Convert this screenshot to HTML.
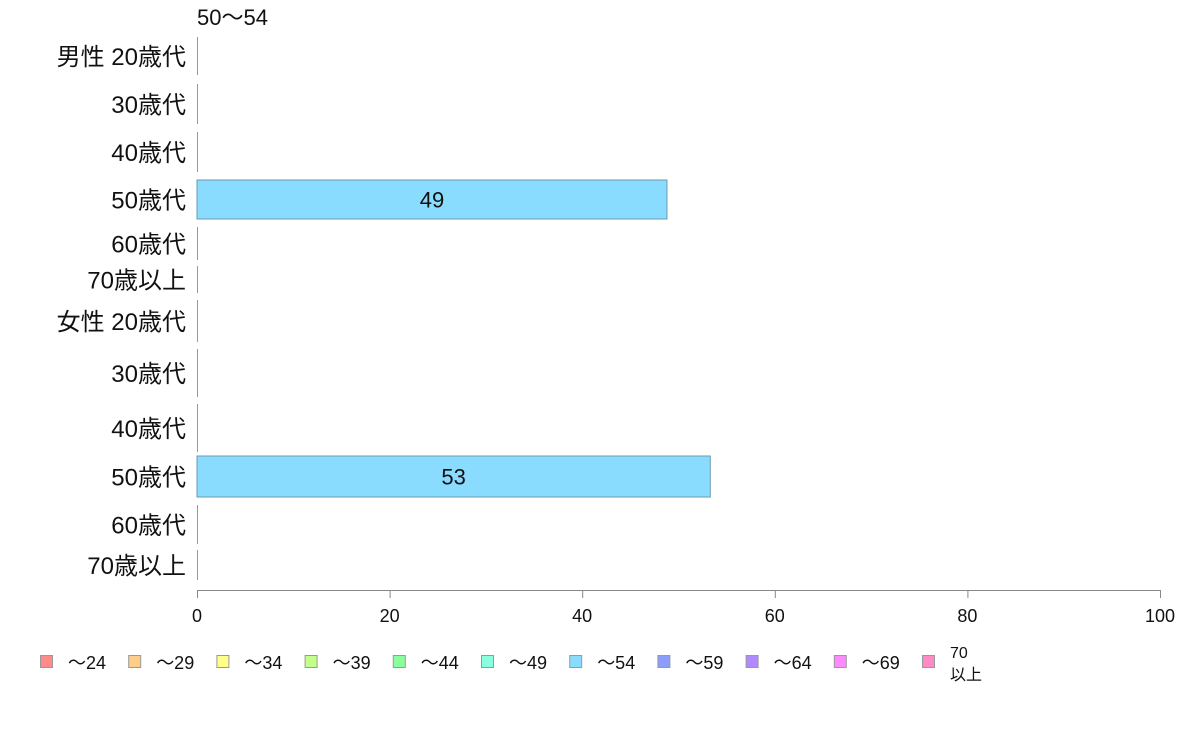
<!DOCTYPE html>
<html><head><meta charset="utf-8"><style>
body{margin:0;background:#fff;}
svg{display:block;font-family:"Liberation Sans","Noto Sans CJK JP",sans-serif;}
</style></head><body>
<svg id="chart" width="1188" height="736" xmlns="http://www.w3.org/2000/svg">
<text x="197" y="25" font-size="22" fill="#111">50〜54</text>
<g id="rows"></g>
<g id="axis"></g>
<g id="legend"></g>
</svg>
<script>
const categories=["男性 20歳代","30歳代","40歳代","50歳代","60歳代","70歳以上","女性 20歳代","30歳代","40歳代","50歳代","60歳代","70歳以上"];
const values=[0,0,0,48.8,0,0,0,0,0,53.3,0,0];
const ticks=[0,20,40,60,80,100];
const legendLabels=["〜24","〜29","〜34","〜39","〜44","〜49","〜54","〜59","〜64","〜69","70"];
const legendColors=["#ff8a8a","#ffcc8a","#ffff8a","#c4ff8a","#8aff9e","#8affe0","#8adcff","#8a9eff","#b08aff","#ff8aff","#ff8ac4"];
const NS="http://www.w3.org/2000/svg";
const x0=197,x1=1160,xmax=100;
const X=v=>x0+(v/xmax)*(x1-x0);
const rowTop=[37,84,132,180,227,266,300,349,404,456,505,550];
const rowBot=[75,124,172,219,260,293,342,397,452,497,544,580];
function mk(t,a,p){const e=document.createElementNS(NS,t);for(const k in a)e.setAttribute(k,a[k]);p.appendChild(e);return e;}
const rows=document.getElementById('rows');
categories.forEach((c,i)=>{
  const cy=(rowTop[i]+rowBot[i])/2;
  const t=mk('text',{x:186,y:cy+9,'font-size':24,'text-anchor':'end',fill:'#111'},rows);
  
  
  t.textContent=c;
  if(values[i]>0){
    const r=mk('rect',{x:x0,y:rowTop[i],width:X(values[i])-x0,height:rowBot[i]-rowTop[i],fill:'#8adcff',stroke:'#6a9ab0','stroke-width':1},rows);
    
    
    const vt=mk('text',{x:(x0+X(values[i]))/2,y:cy+8,'font-size':22,'text-anchor':'middle',fill:'#111'},rows);
    
    
    vt.textContent=Math.round(values[i]);
  } else {
    const l=mk('line',{x1:x0+0.5,x2:x0+0.5,y1:rowTop[i],y2:rowBot[i],stroke:'#999','stroke-width':1},rows);
    
    
  }
});
const ax=document.getElementById('axis');
const al=mk('line',{x1:x0,x2:x1,y1:590.5,y2:590.5,stroke:'#888','stroke-width':1},ax);


ticks.forEach(v=>{
  const tl=mk('line',{x1:X(v)+0.5,x2:X(v)+0.5,y1:590,y2:598,stroke:'#888'},ax);
  
  
  const tt=mk('text',{x:X(v),y:622,'font-size':18,'text-anchor':'middle',fill:'#111'},ax);
  
  
  tt.textContent=v;
});
const lg=document.getElementById('legend');
legendLabels.forEach((s,i)=>{
  const lx=40+i*88.2;
  const g=mk('g',{},lg);
  
  
  mk('rect',{x:lx+0.5,y:655.5,width:12,height:12,fill:legendColors[i],stroke:'#999'},g);
  if(i<10){
    const t=mk('text',{x:lx+28,y:669,'font-size':18,fill:'#111'},g);t.textContent=s;
  } else {
    const t=mk('text',{x:lx+28,y:658,'font-size':16,fill:'#111'},g);t.textContent=s;
    const t2=mk('text',{x:lx+28,y:680,'font-size':16,fill:'#111'},g);t2.textContent="以上";
  }
});
</script>
</body></html>
